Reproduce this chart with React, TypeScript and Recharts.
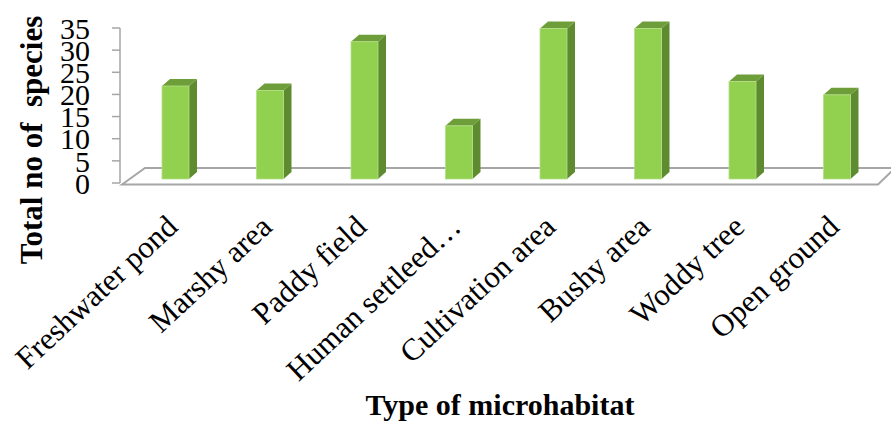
import { BarChart, Bar, XAxis, YAxis, CartesianGrid } from 'recharts'

const categories = [
  'Freshwater pond',
  'Marshy area',
  'Paddy field',
  'Human settleed\u2026',
  'Cultivation area',
  'Bushy area',
  'Woddy tree',
  'Open ground',
]
const speciesCounts = [21, 20, 31, 12, 34, 34, 22, 19]
const yTicks = [0, 5, 10, 15, 20, 25, 30, 35]

const data = categories.map((name, i) => ({ name, species: speciesCounts[i] }))

const FONT = "'Liberation Serif', 'Times New Roman', serif"
const GREY = '#a6a6a6'

// fake 3d depth of the bars, as in the excel original
const DX = 8
const DY = 7
const LIFT = 4

const Bar3D = (props) => {
  const { x, y, width, height } = props
  const top = y - LIFT
  const bottom = y + height - LIFT
  const right = x + width
  return (
    <g>
      <polygon
        points={`${right},${top} ${right + DX},${top - DY} ${right + DX},${bottom - DY} ${right},${bottom}`}
        fill="#5e8b2f"
      />
      <polygon
        points={`${x},${top} ${x + DX},${top - DY} ${right + DX},${top - DY} ${right},${top}`}
        fill="#6e9e39"
      />
      <rect x={x} y={top} width={width} height={height} fill="#92d050" stroke="#b3df87" strokeWidth={0.8} />
    </g>
  )
}

// the floor of the 3d plot, drawn from the grid line at 0
const Floor = (props) => {
  const { x1, y1, x2 } = props
  return (
    <polygon
      key="floor"
      points={`${x1 + 2},${y1 + 1.5} ${x1 + 25},${y1 - 15} ${x2 + 11},${y1 - 15} ${x2 - 6},${y1 + 1.5}`}
      fill="none"
      stroke={GREY}
      strokeWidth={2}
    />
  )
}

const CategoryTick = (props) => {
  const { x, y, payload } = props
  const tx = x + 4
  const ty = y + 46
  return (
    <text
      x={tx}
      y={ty}
      transform={`rotate(-43, ${tx}, ${ty})`}
      textAnchor="end"
      fontFamily={FONT}
      fontSize={31}
      fill="#000"
    >
      {payload.value}
    </text>
  )
}

const XTitle = (props) => {
  const { viewBox } = props
  return (
    <text
      x={viewBox.x + viewBox.width / 2 - 2}
      y={415}
      textAnchor="middle"
      fontFamily={FONT}
      fontSize={30}
      fontWeight="bold"
      fill="#000"
    >
      Type of microhabitat
    </text>
  )
}

const YTitle = () => (
  <text
    x={42}
    y={140}
    transform="rotate(-90, 42, 140)"
    textAnchor="middle"
    fontFamily={FONT}
    fontSize={31}
    fontWeight="bold"
    fill="#000"
  >
    {'Total no of\u00a0 species'}
  </text>
)

export default function App() {
  return (
    <div style={{ position: 'absolute', left: 0, top: 0, background: '#fff' }}>
      <BarChart
        width={891}
        height={427}
        data={data}
        margin={{ top: 28, right: 7, bottom: 0, left: 0 }}
      >
        <CartesianGrid vertical={false} horizontalValues={[0]} horizontal={(p) => <Floor {...p} />} />
        <XAxis
          dataKey="name"
          height={244}
          padding={{ left: 8, right: 0 }}
          axisLine={false}
          tickLine={false}
          tickSize={0}
          tickMargin={0}
          interval={0}
          tick={<CategoryTick />}
          label={<XTitle />}
        />
        <YAxis
          width={120}
          domain={[0, 35]}
          ticks={yTicks}
          interval={0}
          tickSize={8}
          tickMargin={22}
          axisLine={{ stroke: GREY, strokeWidth: 1.5 }}
          tickLine={{ stroke: GREY, strokeWidth: 1.5 }}
          tick={{ fill: '#000', fontSize: 30, fontFamily: FONT }}
          label={<YTitle />}
        />
        <Bar dataKey="species" barSize={27} shape={<Bar3D />} isAnimationActive={false} />
      </BarChart>
    </div>
  )
}
